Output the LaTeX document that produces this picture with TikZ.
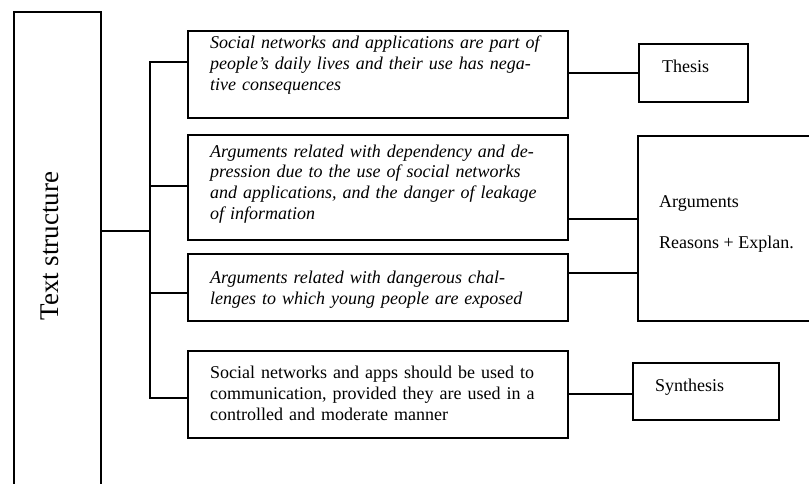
\documentclass[tikz,border=0pt]{standalone}
\usepackage{fontspec}
\setmainfont{Liberation Serif}
\begin{document}
\begin{tikzpicture}[x=1pt,y=1pt,
  box/.style={draw,line width=1.9pt,rectangle,inner sep=0pt},
  conn/.style={line width=1.9pt},
  boxtext/.style={inner sep=0pt,anchor=base west,text width=370pt,align=left,
     font=\fontsize{18}{21}\selectfont},
  lab/.style={inner sep=0pt,anchor=base west,font=\fontsize{18}{21}\selectfont}]
\useasboundingbox (0,0) rectangle (809,483);
% left tall box
\node[box,minimum width=87pt,minimum height=520pt] (ts) at (57.5,211) {};
\node[rotate=90,inner sep=0pt,font=\fontsize{27}{30}\selectfont] (tstext) at (50,237) {Text structure};
% middle boxes
\node[box,minimum width=380pt,minimum height=87pt] (b1) at (378,408.5) {};
\node[box,minimum width=380pt,minimum height=105pt] (b2) at (378,295.5) {};
\node[box,minimum width=380pt,minimum height=67pt] (b3) at (378,195.5) {};
\node[box,minimum width=380pt,minimum height=87pt] (b4) at (378,88.5) {};
\node[boxtext] (t1) at (210,434) {\itshape Social networks and applications are part of\\people’s daily lives and their use has nega-\\tive consequences};
\node[boxtext] (t2) at (210,326) {\itshape Arguments related with dependency and de-\\pression due to the use of social networks\\and applications, and the danger of leakage\\of information};
\node[boxtext] (t3) at (210,200) {\itshape Arguments related with dangerous chal-\\lenges to which young people are exposed};
\node[boxtext] (t4) at (210,105) {Social networks and apps should be used to\\communication, provided they are used in a\\controlled and moderate manner};
% right boxes
\node[box,minimum width=109pt,minimum height=58pt] (th) at (693.5,410) {};
\node[lab] (thl) at (662,410) {Thesis};
\node[box,minimum width=192pt,minimum height=185pt] (ar) at (734,254.5) {};
\node[lab] (arl1) at (659,276) {Arguments};
\node[lab] (arl2) at (659,235) {Reasons + Explan.};
\node[box,minimum width=146pt,minimum height=57pt] (sy) at (706,91.5) {};
\node[lab] (syl) at (655,92) {Synthesis};
% connectors
\coordinate (tm) at (150,252);
\coordinate (tA) at (150,421);
\coordinate (tB) at (150,85);
\coordinate (y2) at (0,297);
\coordinate (y3) at (0,190);
\coordinate (r2) at (0,264);
\coordinate (r3) at (0,210);
\coordinate (r4) at (0,89);
\draw[conn] (ts.east|-tm) -- (tm);
\draw[conn] (b1.west|-tA) -- (tA) -- (tB) -- (b4.west|-tB);
\draw[conn] (tm|-y2) -- (b2.west|-y2);
\draw[conn] (tm|-y3) -- (b3.west|-y3);
\draw[conn] (b1.east|-th.west) -- (th.west);
\draw[conn] (b2.east|-r2) -- (ar.west|-r2);
\draw[conn] (b3.east|-r3) -- (ar.west|-r3);
\draw[conn] (b4.east|-r4) -- (sy.west|-r4);
\end{tikzpicture}
\end{document}
